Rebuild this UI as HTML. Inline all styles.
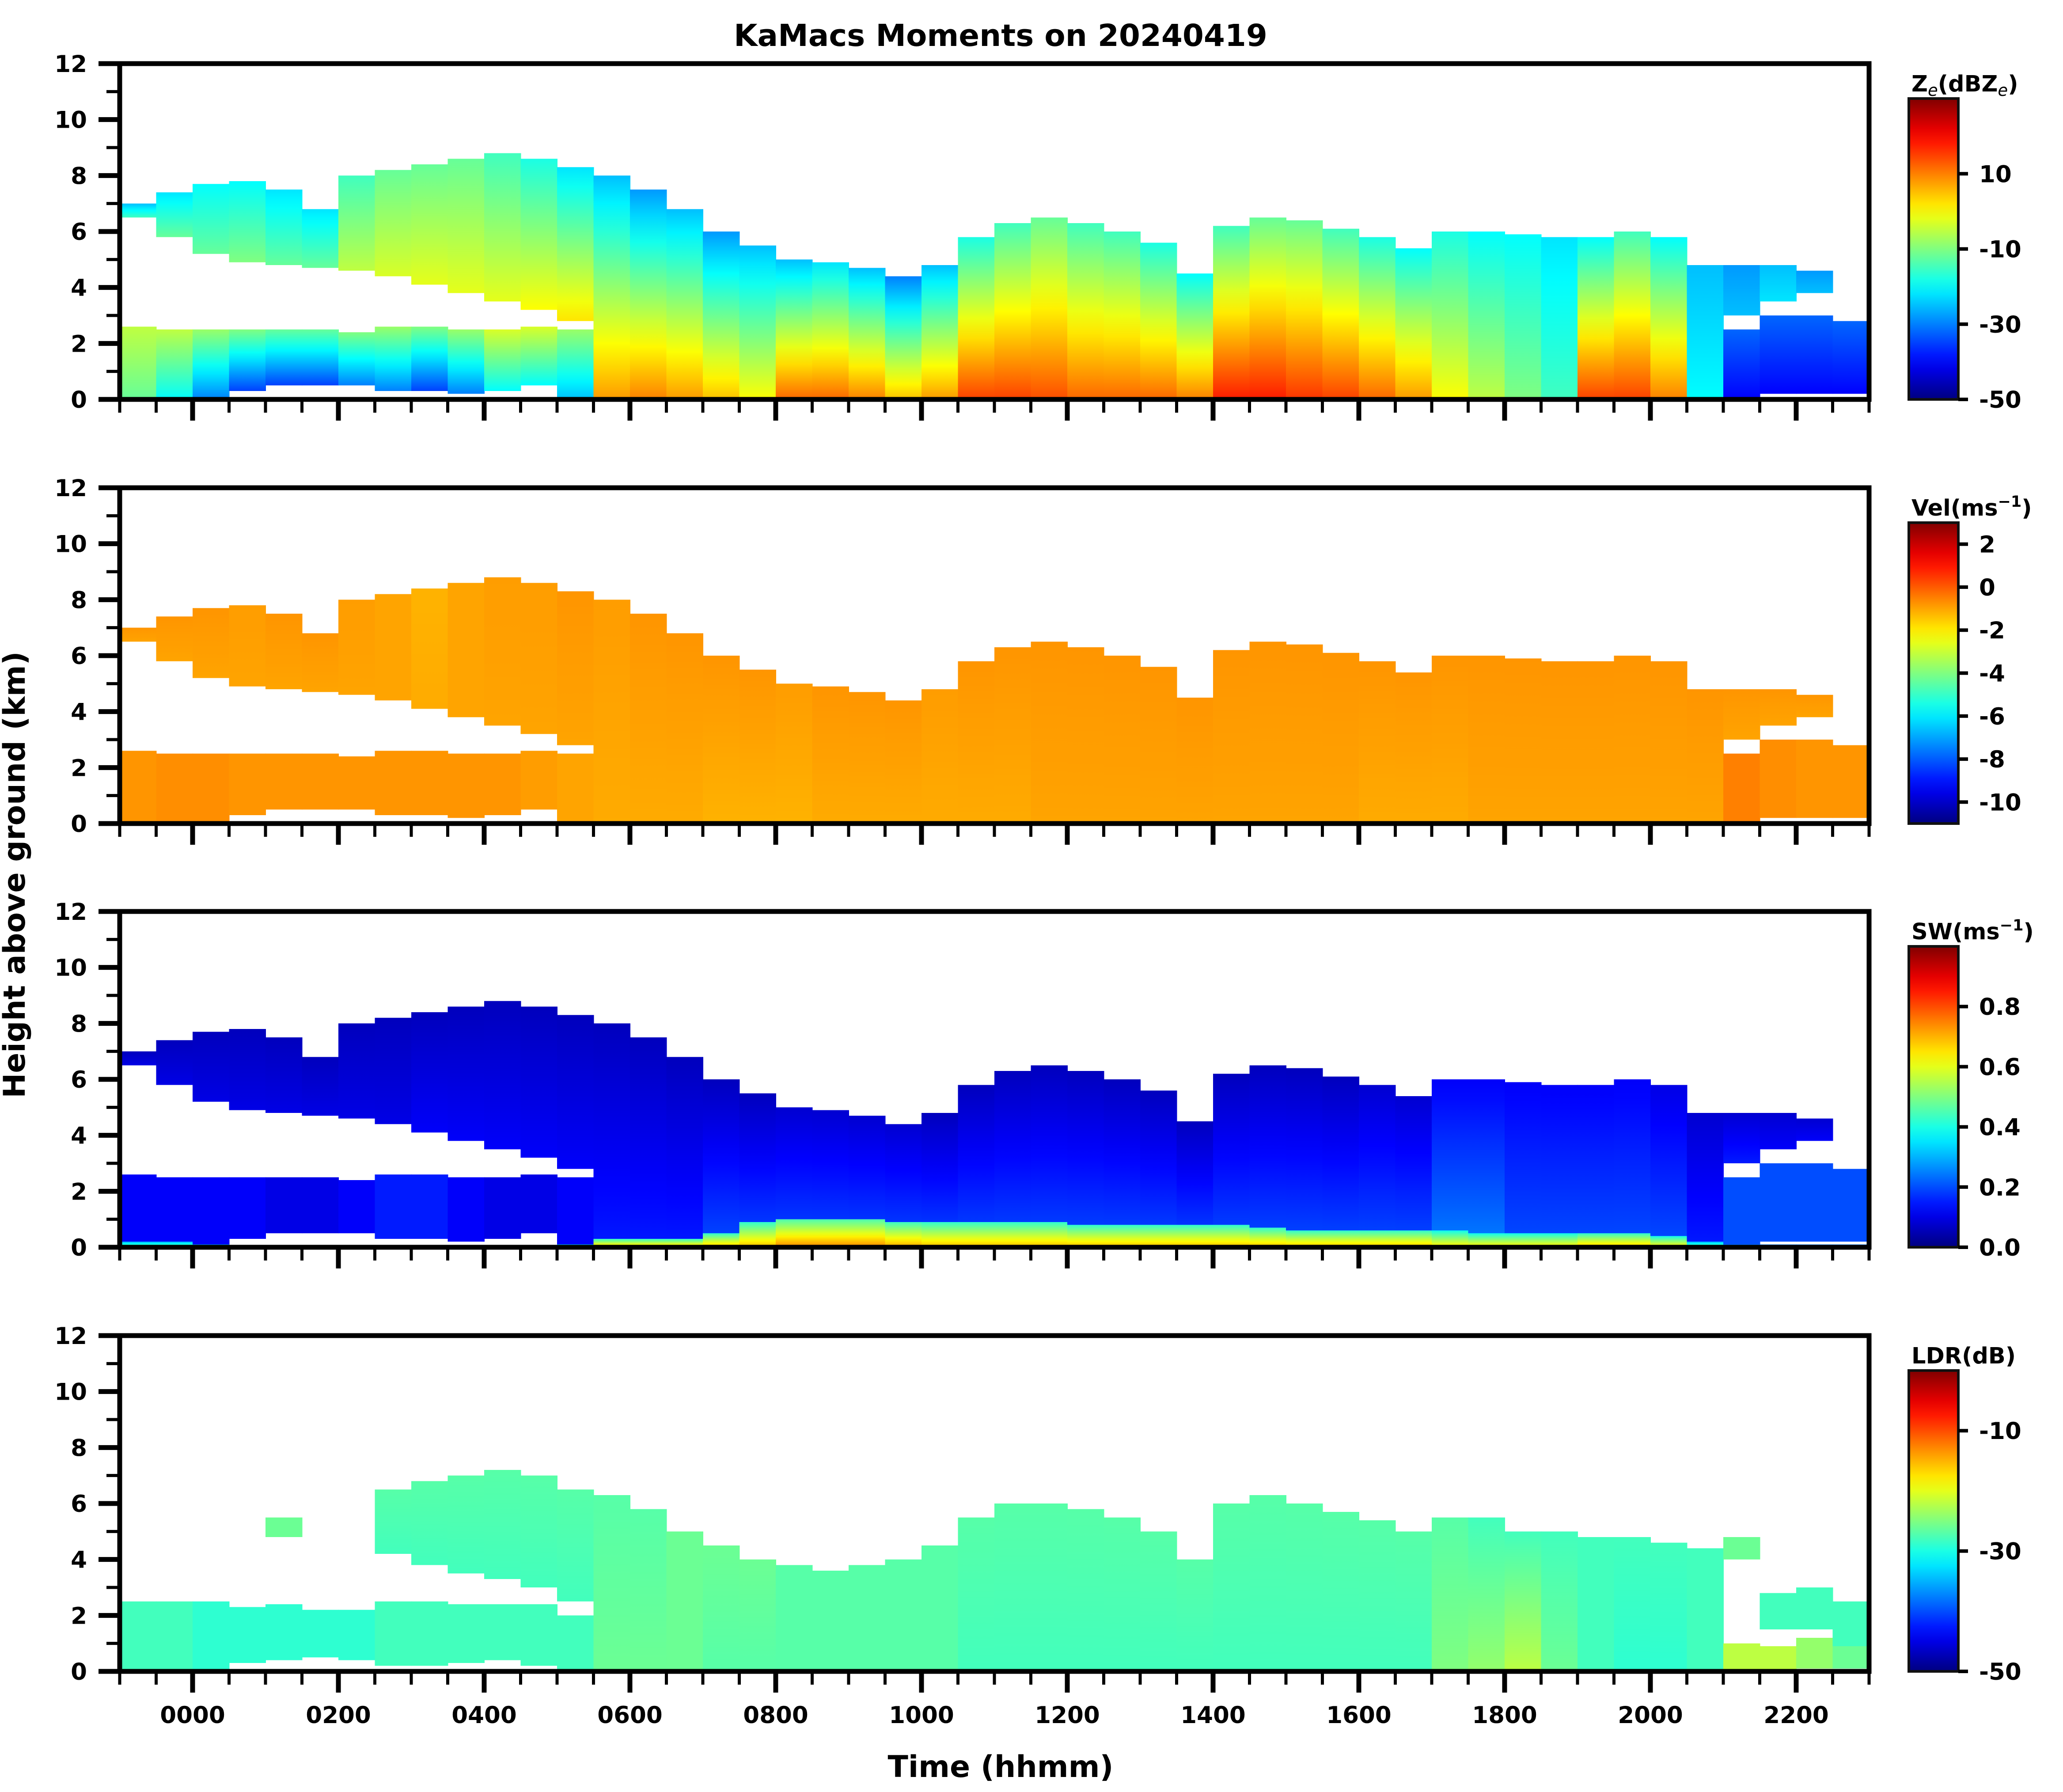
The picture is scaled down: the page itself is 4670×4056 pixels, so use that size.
<!DOCTYPE html>
<html><head><meta charset="utf-8"><title>KaMacs Moments on 20240419</title>
<style>html,body{margin:0;padding:0;background:#fff}svg{display:block}text{font-family:"DejaVu Sans","Liberation Sans",sans-serif;font-weight:bold}</style>
</head><body>
<svg id="fig" xmlns="http://www.w3.org/2000/svg" width="4670" height="4056" viewBox="0 0 4670 4056">
<text x="2265" y="104" font-size="69" text-anchor="middle">KaMacs Moments on 20240419</text>
<text transform="translate(56,1980) rotate(-90)" font-size="68" text-anchor="middle">Height above ground (km)</text>
<text x="2265" y="4022" font-size="68" text-anchor="middle">Time (hhmm)</text>
</svg>
<script>
// time bins: 30-min starting at -1 h (2300 previous day) to 23 h
const binStart = -1, binWidth = 0.5;
// shared cloud geometry (km)
const upTop  = [7.0,7.4,7.7,7.8,7.5,6.8,8.0,8.2,8.4,8.6,8.8,8.6,8.3,8.0,7.5,6.8,6.0,5.5,5.0,4.9,4.7,4.4,4.8,5.8,6.3,6.5,6.3,6.0,5.6,4.5,6.2,6.5,6.4,6.1,5.8,5.4,6.0,6.0,5.9,5.8,5.8,6.0,5.8,4.8,4.8,4.8,4.6,0];
const upBase = [6.5,5.8,5.2,4.9,4.8,4.7,4.6,4.4,4.1,3.8,3.5,3.2,2.8,0,0,0,0,0,0,0,0,0,0,0,0,0,0,0,0,0,0,0,0,0,0,0,0,0,0,0,0,0,0,0,3.0,3.5,3.8,0];
const lowTop = [2.6,2.5,2.5,2.5,2.5,2.5,2.4,2.6,2.6,2.5,2.5,2.6,2.5,0,0,0,0,0,0,0,0,0,0,0,0,0,0,0,0,0,0,0,0,0,0,0,0,0,0,0,0,0,0,0,2.5,3.0,3.0,2.8];
const lowBase= [0,0,0,0.3,0.5,0.5,0.5,0.3,0.3,0.2,0.3,0.5,0,0,0,0,0,0,0,0,0,0,0,0,0,0,0,0,0,0,0,0,0,0,0,0,0,0,0,0,0,0,0,0,0,0.2,0.2,0.2];
// Ze (dBZe)
const zeTop = [-25,-22,-20,-20,-22,-22,-15,-12,-12,-12,-15,-18,-22,-25,-28,-25,-28,-25,-25,-22,-25,-30,-25,-18,-15,-12,-15,-15,-18,-20,-15,-12,-12,-15,-18,-20,-18,-20,-20,-22,-20,-15,-20,-25,-28,-25,-28,0];
const zeBot = [-15,-12,-12,-10,-12,-12,-5,-3,-2,-2,-2,0,2,8,10,8,5,0,12,12,10,5,8,15,15,14,12,12,12,10,18,18,16,15,12,8,0,-5,-10,-15,15,15,10,-20,-25,-22,-25,0];
const zeLow = [-5,-5,-8,-10,-12,-12,-10,-8,-10,-8,-3,-3,-8,0,0,0,0,0,0,0,0,0,0,0,0,0,0,0,0,0,0,0,0,0,0,0,0,0,0,0,0,0,0,0,-32,-32,-32,-32];
const zeLowBot = [-12,-20,-30,-35,-35,-35,-30,-30,-35,-30,-20,-20,-25,0,0,0,0,0,0,0,0,0,0,0,0,0,0,0,0,0,0,0,0,0,0,0,0,0,0,0,0,0,0,0,-40,-40,-40,-40];
// Vel (m/s)
const velTop = [-0.8,-0.8,-0.8,-0.9,-0.8,-0.8,-0.9,-1.0,-1.2,-1.0,-0.9,-0.9,-0.8,-0.9,-0.8,-0.8,-0.8,-0.8,-0.9,-0.8,-0.8,-0.8,-0.9,-0.8,-0.8,-0.8,-0.8,-0.8,-0.8,-0.8,-0.8,-0.8,-0.8,-0.8,-0.8,-0.8,-0.8,-0.8,-0.8,-0.8,-0.8,-0.8,-0.8,-0.8,-0.8,-0.8,-0.8,0];
const velBot = [-1.0,-1.0,-1.0,-1.0,-1.0,-1.0,-1.0,-1.0,-1.1,-1.0,-1.0,-1.0,-1.0,-1.1,-1.1,-1.1,-1.2,-1.2,-1.2,-1.1,-1.1,-1.1,-1.1,-1.1,-1.1,-1.0,-1.0,-1.0,-1.0,-1.0,-1.0,-1.0,-1.0,-1.0,-1.1,-1.1,-1.1,-1.0,-1.0,-1.0,-1.0,-1.0,-1.0,-1.0,-1.0,-1.0,-1.0,0];
const velLow = [-0.8,-0.7,-0.7,-0.8,-0.8,-0.8,-0.8,-0.8,-0.8,-0.8,-0.8,-0.9,-1.0,0,0,0,0,0,0,0,0,0,0,0,0,0,0,0,0,0,0,0,0,0,0,0,0,0,0,0,0,0,0,0,-0.5,-0.7,-0.8,-0.8];
// SW (m/s)
const swTop = [0.06,0.06,0.06,0.06,0.06,0.06,0.06,0.06,0.06,0.06,0.06,0.06,0.06,0.06,0.06,0.06,0.06,0.06,0.08,0.08,0.08,0.08,0.06,0.06,0.06,0.06,0.06,0.06,0.06,0.06,0.06,0.06,0.06,0.06,0.08,0.08,0.12,0.12,0.12,0.12,0.12,0.12,0.1,0.08,0.08,0.08,0.08,0];
const swBot = [0.1,0.1,0.1,0.1,0.1,0.1,0.1,0.1,0.12,0.12,0.12,0.12,0.12,0.15,0.15,0.15,0.2,0.2,0.2,0.2,0.2,0.2,0.2,0.2,0.2,0.2,0.2,0.2,0.2,0.2,0.2,0.2,0.2,0.2,0.2,0.2,0.25,0.25,0.2,0.2,0.2,0.2,0.2,0.15,0.15,0.12,0.12,0];
const swLow = [0.12,0.12,0.12,0.12,0.1,0.1,0.12,0.15,0.15,0.12,0.1,0.1,0.12,0,0,0,0,0,0,0,0,0,0,0,0,0,0,0,0,0,0,0,0,0,0,0,0,0,0,0,0,0,0,0,0.2,0.2,0.2,0.2];
const swSfcH = [0.2,0.2,0.1,0,0,0,0,0,0,0,0,0,0.1,0.3,0.3,0.3,0.5,0.9,1.0,1.0,1.0,0.9,0.9,0.9,0.9,0.9,0.8,0.8,0.8,0.8,0.8,0.7,0.6,0.6,0.6,0.6,0.6,0.5,0.5,0.5,0.5,0.5,0.4,0.2,0.1,0.1,0.1,0.1];
const swSfc = [0.5,0.5,0.5,0,0,0,0,0,0,0,0,0,0.6,0.7,0.7,0.7,0.7,0.7,0.75,0.75,0.75,0.72,0.7,0.7,0.7,0.7,0.7,0.7,0.7,0.7,0.7,0.7,0.7,0.7,0.7,0.7,0.65,0.65,0.65,0.65,0.7,0.7,0.65,0.5,0.4,0.4,0.4,0.4];
// LDR geometry & values (dB)
const ldrUpTop  = [0,0,0,0,5.5,0,0,6.5,6.8,7.0,7.2,7.0,6.5,6.3,5.8,5.0,4.5,4.0,3.8,3.6,3.8,4.0,4.5,5.5,6.0,6.0,5.8,5.5,5.0,4.0,6.0,6.3,6.0,5.7,5.4,5.0,5.5,5.5,5.0,5.0,4.8,4.8,4.6,4.4,4.8,2.8,3.0,2.5];
const ldrUpBase = [0,0,0,0,4.8,0,0,4.2,3.8,3.5,3.3,3.0,2.5,0,0,0,0,0,0,0,0,0,0,0,0,0,0,0,0,0,0,0,0,0,0,0,0,0,0,0,0,0,0,0,4.0,1.5,1.5,0.8];
const ldrLowTop = [2.5,2.5,2.5,2.3,2.4,2.2,2.2,2.5,2.5,2.4,2.4,2.4,2.0,0,0,0,0,0,0,0,0,0,0,0,0,0,0,0,0,0,0,0,0,0,0,0,0,0,0,0,0,0,0,0,1.0,0.9,1.2,0.9];
const ldrLowBase= [0,0,0,0.3,0.4,0.5,0.4,0.2,0.2,0.3,0.4,0.2,0,0,0,0,0,0,0,0,0,0,0,0,0,0,0,0,0,0,0,0,0,0,0,0,0,0,0,0,0,0,0,0,0,0,0.1,0.1];
const ldrTop = [-30,-30,-30,-30,-26,-30,-30,-27,-27,-27,-27,-27,-27,-27,-27,-26,-26,-26,-27,-27,-27,-27,-27,-27,-27,-27,-27,-27,-27,-27,-27,-27,-27,-27,-27,-27,-27,-28,-28,-28,-28,-28,-28,-28,-26,-28,-28,-28];
const ldrBot = [-30,-30,-30,-30,-26,-30,-30,-28,-28,-28,-28,-28,-28,-26,-26,-26,-27,-27,-27,-27,-27,-27,-27,-28,-28,-28,-28,-28,-28,-28,-28,-28,-28,-28,-28,-28,-25,-24,-22,-26,-28,-29,-29,-28,-26,-28,-28,-28];
const ldrLow = [-28,-28,-29,-29,-29,-29,-29,-28,-28,-28,-28,-28,-28,0,0,0,0,0,0,0,0,0,0,0,0,0,0,0,0,0,0,0,0,0,0,0,0,0,0,0,0,0,0,0,-22,-22,-24,-26];
// tick labels
const xTickHours = [0,2,4,6,8,10,12,14,16,18,20,22];
const xTickLabels = ["0000","0200","0400","0600","0800","1000","1200","1400","1600","1800","2000","2200"];
const yTicks = [0,2,4,6,8,10,12];
const zeTicks = [10,-10,-30,-50], velTicks=[2,0,-2,-4,-6,-8,-10], swTicks=[0.0,0.2,0.4,0.6,0.8], ldrTicks=[-10,-30,-50];

const NS="http://www.w3.org/2000/svg";
const svg=document.getElementById('fig');
const X0=271,X1=4231,T0=-1,T1=23,PH=760,tops=[144,1104,2063,3023];
const xs=t=>X0+(t-T0)/(T1-T0)*(X1-X0);
function jet(v){const c=x=>Math.round(255*Math.max(0,Math.min(1,x)));return `rgb(${c(1.5-Math.abs(4*v-3))},${c(1.5-Math.abs(4*v-2))},${c(1.5-Math.abs(4*v-1))})`;}
function mk(tag,attrs,parent){const e=document.createElementNS(NS,tag);for(const k in attrs)e.setAttribute(k,attrs[k]);(parent||svg).appendChild(e);return e;}
const defs=mk('defs',{});
let gid=0;
// gradient whose stops are colormap lookups of blended values (avoids muddy RGB blending)
function grad(n1,n2){const g=mk('linearGradient',{id:'g'+(++gid),x1:0,y1:0,x2:0,y2:1},defs);
  for(let s=0;s<=8;s++){const f=s/8;mk('stop',{offset:f,'stop-color':jet(n1+(n2-n1)*f)},g);}return 'url(#g'+gid+')';}

const panels=[
 {name:'ze',vmin:-50,vmax:30,ticks:zeTicks,fmt:v=>String(v),label:'ze',geo:[upBase,upTop,lowBase,lowTop],vals:[zeTop,zeBot,zeLow,zeLowBot]},
 {name:'vel',vmin:-11,vmax:3,ticks:velTicks,fmt:v=>String(v),label:'Vel(ms',geo:[upBase,upTop,lowBase,lowTop],vals:[velTop,velBot,velLow,velLow]},
 {name:'sw',vmin:0,vmax:1,ticks:swTicks,fmt:v=>v.toFixed(1),label:'SW(ms',geo:[upBase,upTop,lowBase,lowTop],vals:[swTop,swBot,swLow,swLow],sfc:true},
 {name:'ldr',vmin:-50,vmax:0,ticks:ldrTicks,fmt:v=>String(v),label:'LDR(dB)',geo:[ldrUpBase,ldrUpTop,ldrLowBase,ldrLowTop],vals:[ldrTop,ldrBot,ldrLow,ldrLow]}
];

panels.forEach((p,pi)=>{
  const top=tops[pi], ys=h=>top+PH*(1-h/12), nv=v=>(v-p.vmin)/(p.vmax-p.vmin);
  const g=mk('g',{});
  
  
  const cp=mk('clipPath',{id:'clip'+pi},defs);mk('rect',{x:X0,y:top,width:X1-X0,height:PH},cp);
  const hm=mk('g',{'clip-path':'url(#clip'+pi+')'},g);
  
  
  const [ub,ut,lb,lt]=p.geo,[vt,vb,vl,vlb]=p.vals;
  for(let i=0;i<ut.length;i++){
    const t=binStart+i*binWidth,x=xs(t),w=xs(t+binWidth)-x+1;
    if(ut[i]>ub[i]){const r=mk('rect',{x:x,y:ys(ut[i]),width:w,height:ys(ub[i])-ys(ut[i]),fill:grad(nv(vt[i]),nv(vb[i]))},hm);
      
      }
    if(lt[i]>lb[i]){const r=mk('rect',{x:x,y:ys(lt[i]),width:w,height:ys(lb[i])-ys(lt[i]),fill:grad(nv(vl[i]),nv(vlb[i]))},hm);
      
      }
    if(p.sfc&&swSfcH[i]>0){const r=mk('rect',{x:x,y:ys(swSfcH[i]),width:w,height:ys(0)-ys(swSfcH[i]),fill:grad(nv(swSfc[i]*0.6),nv(swSfc[i]))},hm);
      
      }
  }
  const fr=mk('rect',{x:X0,y:top,width:X1-X0,height:PH,fill:'none',stroke:'#000','stroke-width':11},g);
  
  
  for(let h=0;h<=12;h++){const major=h%2===0;mk('line',{x1:X0-(major?48:30),x2:X0,y1:ys(h),y2:ys(h),stroke:'#000','stroke-width':major?11:7},g);}
  yTicks.forEach(h=>{const tl=mk('text',{x:197,y:ys(h)+19,'font-size':53,'text-anchor':'end'},g);tl.textContent=String(h);
    
    });
  for(let k=0;k<=48;k++){const t=T0+k*0.5,major=(Math.abs(t%2)<1e-9);mk('line',{x1:xs(t),x2:xs(t),y1:top+PH,y2:top+PH+(major?48:30),stroke:'#000','stroke-width':major?11:7},g);}
  if(pi===3){xTickHours.forEach((h,k)=>{const tl=mk('text',{x:xs(h),y:3900,'font-size':53,'text-anchor':'middle'},g);tl.textContent=xTickLabels[k];
    
    });}
  const cb0=top+79,cb1=top+PH,cx0=4321,cx1=4433,cys=v=>cb1-(v-p.vmin)/(p.vmax-p.vmin)*(cb1-cb0);
  const cg=mk('linearGradient',{id:'cb'+pi,x1:0,y1:1,x2:0,y2:0},defs);
  for(let s=0;s<=20;s++){mk('stop',{offset:s/20,'stop-color':jet(s/20)},cg);}
  const cb=mk('rect',{x:cx0,y:cb0,width:cx1-cx0,height:cb1-cb0,fill:'url(#cb'+pi+')',stroke:'#111','stroke-width':6},g);
  
  
  p.ticks.forEach(v=>{mk('line',{x1:cx1,x2:cx1+22,y1:cys(v),y2:cys(v),stroke:'#000','stroke-width':8},g);
    const tl=mk('text',{x:4480,y:cys(v)+19,'font-size':53},g);tl.textContent=p.fmt(v);
    
    });
  const lab=mk('text',{x:4327,y:top+63,'font-size':51},g);
  
  
  if(p.name==='ze'){lab.innerHTML='Z<tspan font-size="37" font-style="italic" font-weight="normal" dy="10">e</tspan><tspan dy="-10">(dBZ</tspan><tspan font-size="37" font-style="italic" font-weight="normal" dy="10">e</tspan><tspan dy="-10">)</tspan>';}
  else if(p.name==='ldr'){lab.textContent='LDR(dB)';}
  else {lab.innerHTML=p.label+'<tspan font-size="35" dy="-20">−1</tspan><tspan dy="20">)</tspan>';}
});
</script>
</body></html>
